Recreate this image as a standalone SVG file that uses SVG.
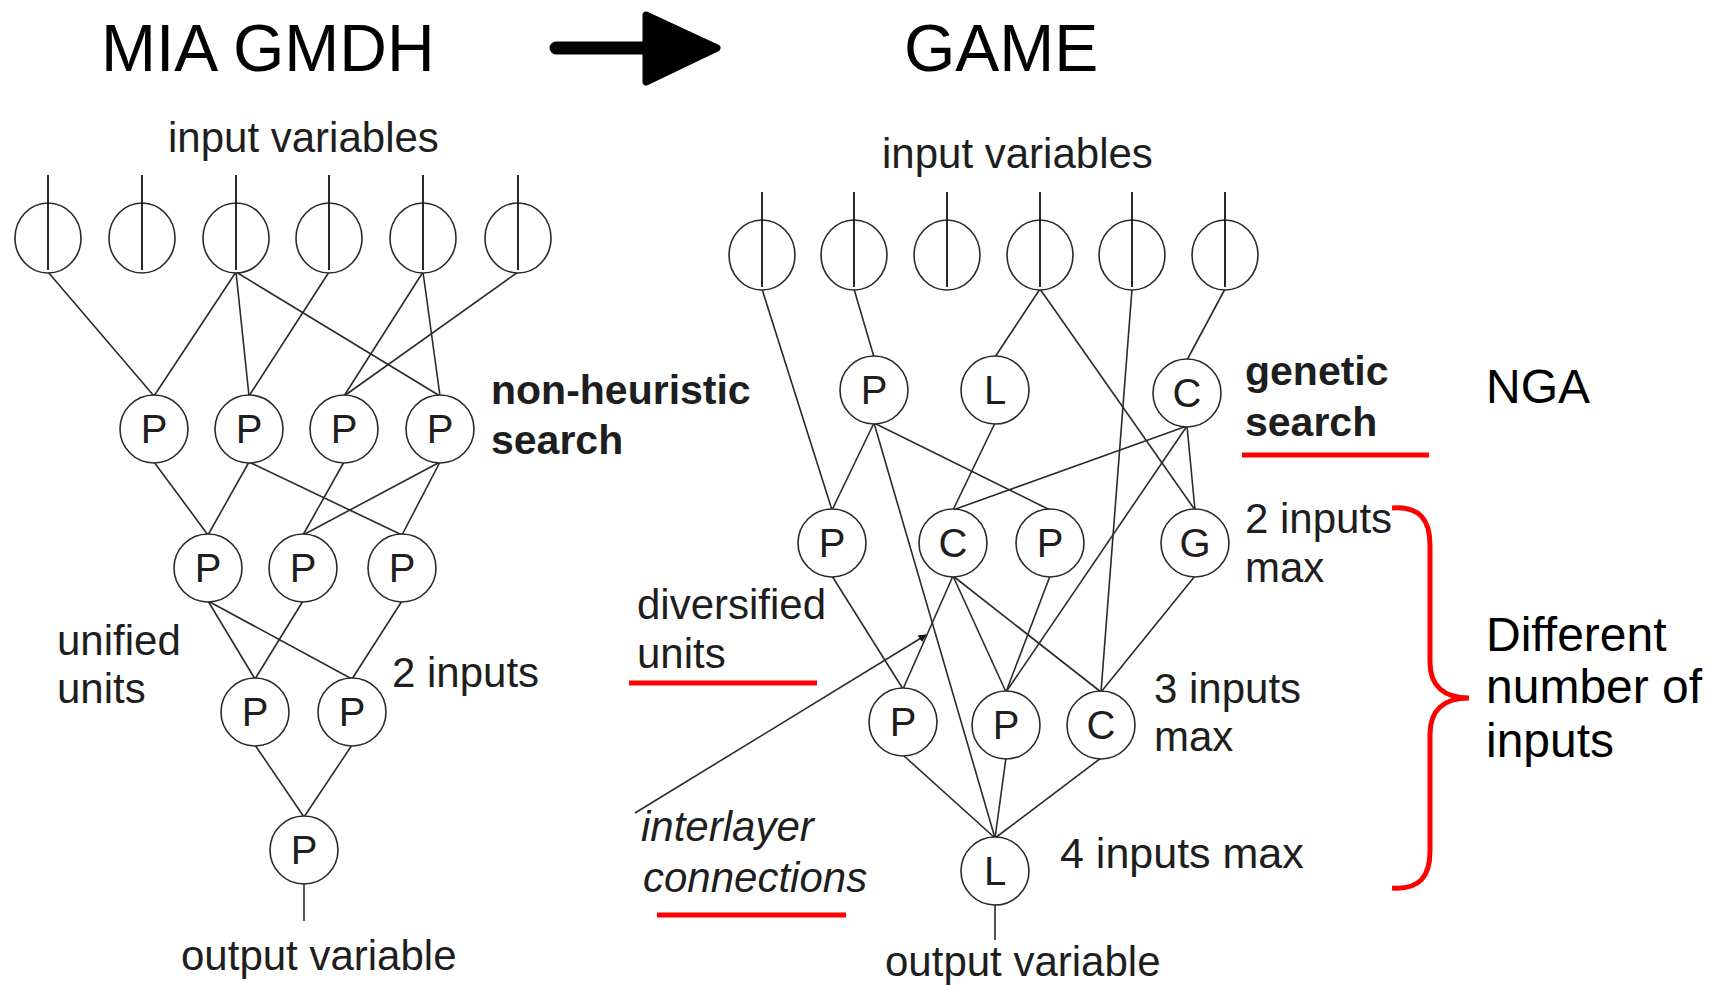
<svg xmlns="http://www.w3.org/2000/svg" width="1723" height="985" viewBox="0 0 1723 985">
  <defs>
    <style>
      text { font-family: "Liberation Sans", Arial, sans-serif; fill: #1e1e1e; }
      .title { font-size: 66px; fill: #000; }
      .lbl { font-size: 42px; }
      .bold { font-size: 41px; font-weight: bold; }
      .ital { font-size: 42px; font-style: italic; }
      .big { font-size: 48px; fill: #000; }
      .node ellipse { fill: #fff; stroke: #2a2a2a; stroke-width: 1.6; }
      .node text { font-size: 40px; text-anchor: middle; }
      .edges line { stroke: #2a2a2a; stroke-width: 1.6; }
      .red { stroke: #ff0000; stroke-width: 5; fill: none; }
    </style>
    <marker id="tip" viewBox="0 0 10 10" refX="9" refY="5" markerWidth="8" markerHeight="8" orient="auto" markerUnits="userSpaceOnUse">
      <path d="M0,0 L10,5 L0,10 Z" fill="#111"/>
    </marker>
    <!-- input terminal: circle with a vertical stub running through it -->
    <g id="inp">
      <ellipse cx="0" cy="0" rx="33" ry="35" fill="#fff" stroke="#2a2a2a" stroke-width="1.6"/>
      <line x1="0" y1="-63" x2="0" y2="32" stroke="#111" stroke-width="1.8"/>
    </g>
  </defs>
  <rect width="1723" height="985" fill="#fff"/>

  <!-- headings -->
  <text class="title" x="101" y="71">MIA GMDH</text>
  <text class="title" x="904" y="71">GAME</text>
  <g id="title-arrow">
    <line x1="556" y1="48" x2="650" y2="48" stroke="#000" stroke-width="13" stroke-linecap="round"/>
    <path d="M646,15 L717,48 L646,82 Z" fill="#000" stroke="#000" stroke-width="7" stroke-linejoin="round"/>
  </g>

  <!-- connectors -->
  <g class="edges" id="connectors">
    <!-- MIA GMDH: inputs to layer 1 -->
    <line x1="48" y1="272" x2="154" y2="396"/>
    <line x1="236" y1="272" x2="154" y2="396"/>
    <line x1="236" y1="272" x2="249" y2="396"/>
    <line x1="236" y1="272" x2="440" y2="396"/>
    <line x1="329" y1="272" x2="249" y2="396"/>
    <line x1="423" y1="272" x2="344" y2="396"/>
    <line x1="423" y1="272" x2="440" y2="396"/>
    <line x1="518" y1="272" x2="344" y2="396"/>
    <!-- layer 1 to layer 2 -->
    <line x1="154" y1="462" x2="208" y2="535"/>
    <line x1="249" y1="462" x2="208" y2="535"/>
    <line x1="249" y1="462" x2="402" y2="535"/>
    <line x1="344" y1="462" x2="303" y2="535"/>
    <line x1="440" y1="462" x2="303" y2="535"/>
    <line x1="440" y1="462" x2="402" y2="535"/>
    <!-- layer 2 to layer 3 -->
    <line x1="208" y1="601" x2="255" y2="679"/>
    <line x1="208" y1="601" x2="352" y2="679"/>
    <line x1="303" y1="601" x2="255" y2="679"/>
    <line x1="402" y1="601" x2="352" y2="679"/>
    <!-- layer 3 to output unit -->
    <line x1="255" y1="745" x2="304" y2="817"/>
    <line x1="352" y1="745" x2="304" y2="817"/>

    <!-- GAME: inputs -->
    <line x1="762" y1="289" x2="832" y2="510"/>
    <line x1="854" y1="289" x2="874" y2="357"/>
    <line x1="1040" y1="289" x2="995" y2="357"/>
    <line x1="1040" y1="289" x2="1195" y2="510"/>
    <line x1="1132" y1="289" x2="1101" y2="692"/>
    <line x1="1225" y1="289" x2="1187" y2="360"/>
    <!-- layer 1 -->
    <line x1="874" y1="423" x2="832" y2="510"/>
    <line x1="874" y1="423" x2="1050" y2="510"/>
    <line x1="874" y1="423" x2="995" y2="838"/>
    <line x1="995" y1="423" x2="953" y2="510"/>
    <line x1="1187" y1="426" x2="953" y2="510"/>
    <line x1="1187" y1="426" x2="1006" y2="692"/>
    <line x1="1187" y1="426" x2="1195" y2="510"/>
    <!-- layer 2 -->
    <line x1="832" y1="576" x2="903" y2="689"/>
    <line x1="953" y1="576" x2="903" y2="689"/>
    <line x1="953" y1="576" x2="1006" y2="692"/>
    <line x1="953" y1="576" x2="1101" y2="692"/>
    <line x1="1050" y1="576" x2="1006" y2="692"/>
    <line x1="1195" y1="576" x2="1101" y2="692"/>
    <!-- layer 3 to output unit -->
    <line x1="903" y1="755" x2="995" y2="838"/>
    <line x1="1006" y1="758" x2="995" y2="838"/>
    <line x1="1101" y1="758" x2="995" y2="838"/>

    <!-- output stubs -->
    <line x1="304" y1="883" x2="304" y2="921"/>
    <line x1="995" y1="904" x2="995" y2="940"/>

    <!-- pointer to an interlayer connection -->
    <line x1="635" y1="813" x2="926" y2="635" marker-end="url(#tip)"/>
  </g>

  <!-- MIA GMDH nodes -->
  <g id="mia-in1"><use href="#inp" x="48" y="238"/></g>
  <g id="mia-in2"><use href="#inp" x="142" y="238"/></g>
  <g id="mia-in3"><use href="#inp" x="236" y="238"/></g>
  <g id="mia-in4"><use href="#inp" x="329" y="238"/></g>
  <g id="mia-in5"><use href="#inp" x="423" y="238"/></g>
  <g id="mia-in6"><use href="#inp" x="518" y="238"/></g>

  <g class="node" id="mia-p11"><ellipse cx="154" cy="429" rx="34" ry="34"/><text x="154" y="443">P</text></g>
  <g class="node" id="mia-p12"><ellipse cx="249" cy="429" rx="34" ry="34"/><text x="249" y="443">P</text></g>
  <g class="node" id="mia-p13"><ellipse cx="344" cy="429" rx="34" ry="34"/><text x="344" y="443">P</text></g>
  <g class="node" id="mia-p14"><ellipse cx="440" cy="429" rx="34" ry="34"/><text x="440" y="443">P</text></g>

  <g class="node" id="mia-p21"><ellipse cx="208" cy="568" rx="34" ry="34"/><text x="208" y="582">P</text></g>
  <g class="node" id="mia-p22"><ellipse cx="303" cy="568" rx="34" ry="34"/><text x="303" y="582">P</text></g>
  <g class="node" id="mia-p23"><ellipse cx="402" cy="568" rx="34" ry="34"/><text x="402" y="582">P</text></g>

  <g class="node" id="mia-p31"><ellipse cx="255" cy="712" rx="34" ry="34"/><text x="255" y="726">P</text></g>
  <g class="node" id="mia-p32"><ellipse cx="352" cy="712" rx="34" ry="34"/><text x="352" y="726">P</text></g>

  <g class="node" id="mia-out"><ellipse cx="304" cy="850" rx="34" ry="34"/><text x="304" y="864">P</text></g>

  <!-- GAME nodes -->
  <g id="game-in1"><use href="#inp" x="762" y="255"/></g>
  <g id="game-in2"><use href="#inp" x="854" y="255"/></g>
  <g id="game-in3"><use href="#inp" x="947" y="255"/></g>
  <g id="game-in4"><use href="#inp" x="1040" y="255"/></g>
  <g id="game-in5"><use href="#inp" x="1132" y="255"/></g>
  <g id="game-in6"><use href="#inp" x="1225" y="255"/></g>

  <g class="node" id="game-p1"><ellipse cx="874" cy="390" rx="34" ry="34"/><text x="874" y="404">P</text></g>
  <g class="node" id="game-l1"><ellipse cx="995" cy="390" rx="34" ry="34"/><text x="995" y="404">L</text></g>
  <g class="node" id="game-c1"><ellipse cx="1187" cy="393" rx="34" ry="34"/><text x="1187" y="407">C</text></g>

  <g class="node" id="game-p2a"><ellipse cx="832" cy="543" rx="34" ry="34"/><text x="832" y="557">P</text></g>
  <g class="node" id="game-c2"><ellipse cx="953" cy="543" rx="34" ry="34"/><text x="953" y="557">C</text></g>
  <g class="node" id="game-p2b"><ellipse cx="1050" cy="543" rx="34" ry="34"/><text x="1050" y="557">P</text></g>
  <g class="node" id="game-g2"><ellipse cx="1195" cy="543" rx="34" ry="34"/><text x="1195" y="557">G</text></g>

  <g class="node" id="game-p3a"><ellipse cx="903" cy="722" rx="34" ry="34"/><text x="903" y="736">P</text></g>
  <g class="node" id="game-p3b"><ellipse cx="1006" cy="725" rx="34" ry="34"/><text x="1006" y="739">P</text></g>
  <g class="node" id="game-c3"><ellipse cx="1101" cy="725" rx="34" ry="34"/><text x="1101" y="739">C</text></g>

  <g class="node" id="game-out"><ellipse cx="995" cy="871" rx="34" ry="34"/><text x="995" y="885">L</text></g>

  <!-- labels -->
  <text class="lbl" x="168" y="152">input variables</text>
  <text class="lbl" x="882" y="168">input variables</text>
  <text class="bold" x="491" y="404">non-heuristic</text>
  <text class="bold" x="491" y="454">search</text>
  <text class="lbl" x="57" y="655">unified</text>
  <text class="lbl" x="57" y="703">units</text>
  <text class="lbl" x="392" y="687">2 inputs</text>
  <text class="lbl" x="181" y="970">output variable</text>

  <text class="bold" x="1245" y="385">genetic</text>
  <text class="bold" x="1245" y="436">search</text>
  <text class="big" x="1486" y="403">NGA</text>
  <text class="lbl" x="1245" y="533">2 inputs</text>
  <text class="lbl" x="1245" y="582">max</text>
  <text class="lbl" x="637" y="619">diversified</text>
  <text class="lbl" x="637" y="668">units</text>
  <text class="lbl" x="1154" y="703">3 inputs</text>
  <text class="lbl" x="1154" y="751">max</text>
  <text class="ital" x="641" y="841">interlayer</text>
  <text class="ital" x="643" y="892">connections</text>
  <text class="lbl" x="1060" y="868" style="font-size:43px">4 inputs max</text>
  <text class="lbl" x="885" y="976">output variable</text>
  <text class="big" x="1486" y="651">Different</text>
  <text class="big" x="1486" y="703">number of</text>
  <text class="big" x="1486" y="757">inputs</text>

  <!-- red emphasis -->
  <g id="emphasis">
    <line class="red" x1="1242" y1="455" x2="1429" y2="455"/>
    <line class="red" x1="629" y1="683" x2="817" y2="683"/>
    <line class="red" x1="657" y1="915" x2="846" y2="915"/>
    <path class="red" d="M1392,508 C1420,506 1430,520 1430,545 L1430,662 C1430,686 1444,698 1469,698 C1444,698 1430,710 1430,734 L1430,851 C1430,876 1420,890 1392,888"/>
  </g>
</svg>
